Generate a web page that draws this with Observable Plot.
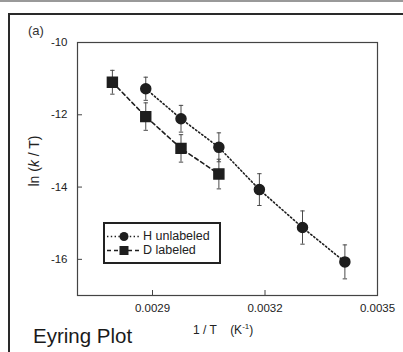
<!DOCTYPE html>
<html>
<head>
<meta charset="utf-8">
<script src="https://cdn.jsdelivr.net/npm/d3@7"></script>
<script src="https://cdn.jsdelivr.net/npm/@observablehq/plot@0.6"></script>
<style>
  html, body { margin: 0; padding: 0; background: #fff; }
  #wrap { position: relative; width: 403px; height: 352px; overflow: hidden; font-family: "Liberation Sans", Arial, sans-serif; color: #222; }
  #wrap svg.plot { position: absolute; left: 0; top: 0; }
  .t { position: absolute; line-height: 1; white-space: nowrap; }
  #topstrip { position: absolute; left: 0; top: 0; width: 403px; height: 2px; background: #999; }
  #outer { position: absolute; left: 8px; top: 13px; width: 400px; height: 400px; border-left: 2px solid #2a2a2a; border-top: 2px solid #2a2a2a; box-sizing: border-box; }
  #legend { position: absolute; left: 103px; top: 222px; width: 118px; height: 42px; border: 2px solid #222; box-sizing: border-box; background: #fff; }
  #legend .row { position: absolute; left: 0; height: 13px; }
  #legend .row svg { position: absolute; left: 0; top: 0; }
  #legend .row span { position: absolute; left: 38px; top: 0px; font-size: 12.5px; line-height: 1; white-space: nowrap; }
</style>
</head>
<body>
<div id="wrap">
  <div id="topstrip"></div>
  <div id="outer"></div>
</div>
<script>
// ---- data ----
const hX   = [0.002882, 0.002976, 0.003077, 0.003185, 0.003300, 0.003413];
const hY   = [-11.28, -12.11, -12.90, -14.07, -15.12, -16.07];
const hErr = [0.32, 0.37, 0.40, 0.44, 0.46, 0.47];

const dX   = [0.002793, 0.002882, 0.002976, 0.003077];
const dY   = [-11.10, -12.05, -12.93, -13.64];
const dErr = [0.33, 0.38, 0.38, 0.41];

const xTicks = [0.0029, 0.0032, 0.0035];
const yTicks = [-10, -12, -14, -16];

const seriesNames = ["H unlabeled", "D labeled"];

// ---- build tables ----
const H = hX.map((x, i) => ({x, y: hY[i], e: hErr[i]}));
const D = dX.map((x, i) => ({x, y: dY[i], e: dErr[i]}));

const cap = { draw(ctx, size) { const w = Math.sqrt(size / Math.PI); ctx.moveTo(-w, 0); ctx.lineTo(w, 0); } };
const ink = "#1e1e1e";
const barInk = "#4a4a4a";

function errMarks(data) {
  return [
    Plot.ruleX(data, {x: "x", y1: d => d.y - d.e, y2: d => d.y + d.e, stroke: barInk, strokeWidth: 1}),
    Plot.dot(data, {x: "x", y: d => d.y + d.e, symbol: cap, r: 2.2, stroke: barInk, fill: "none", strokeWidth: 1}),
    Plot.dot(data, {x: "x", y: d => d.y - d.e, symbol: cap, r: 2.2, stroke: barInk, fill: "none", strokeWidth: 1})
  ];
}

const chart = Plot.plot({
  width: 403, height: 352,
  marginLeft: 77, marginRight: 26, marginTop: 42, marginBottom: 57,
  style: {fontFamily: "'Liberation Sans', Arial, sans-serif", fontSize: "11.5px", color: "#222", background: "transparent"},
  x: {domain: [0.0027, 0.0035]},
  y: {domain: [-17, -10]},
  marks: [
    Plot.frame({stroke: "#444", strokeWidth: 1.2}),
    Plot.axisX({ticks: xTicks, tickSize: 0, tickPadding: 8, tickFormat: d => d.toFixed(4), label: null}),
    Plot.tickX(xTicks, {x: d => d, insetTop: 248, stroke: "#444"}),
    Plot.axisY({ticks: yTicks, tickSize: 0, tickPadding: 10, tickFormat: d => String(d), label: null}),
    Plot.tickY(yTicks, {y: d => d, insetRight: 295, stroke: "#444"}),
    Plot.line(H, {x: "x", y: "y", stroke: ink, strokeWidth: 1.6, strokeDasharray: "1.4,2.4"}),
    Plot.line(D, {x: "x", y: "y", stroke: ink, strokeWidth: 1.6, strokeDasharray: "4,3"}),
    ...errMarks(H),
    ...errMarks(D),
    Plot.dot(H, {x: "x", y: "y", r: 5, fill: ink, stroke: ink, symbol: "circle"}),
    Plot.dot(D, {x: "x", y: "y", r: 5.6, fill: ink, stroke: ink, symbol: "square"})
  ]
});
chart.classList.add("plot");
const wrap = document.getElementById("wrap");
wrap.appendChild(chart);

function addText(html, left, top, size, extra) {
  const el = document.createElement("div");
  el.className = "t";
  el.innerHTML = html;
  el.style.left = left + "px";
  el.style.top = top + "px";
  el.style.fontSize = size + "px";
  if (extra) Object.assign(el.style, extra);
  wrap.appendChild(el);
  return el;
}

addText("(a)", 28, 24, 13, {color: "#333"});
addText("Eyring Plot", 33, 325.5, 20.5, {color: "#1a1a1a"});
addText("1 / T&nbsp;&nbsp;&nbsp;&nbsp;(K<sup style=\"font-size:8px;vertical-align:5px\">-1</sup>)", 193, 323, 12);
const yl = addText("ln (<i>k</i> / T)", 0, 0, 14);
yl.style.left = "34px"; yl.style.top = "161px";
yl.style.transform = "translate(-50%, -50%) rotate(-90deg)";

// legend
const lg = document.createElement("div");
lg.id = "legend";
const rows = [
  {name: seriesNames[0], dash: "1.4,2.4", sym: "circle"},
  {name: seriesNames[1], dash: "4,3", sym: "square"}
];
rows.forEach((r, i) => {
  const row = document.createElement("div");
  row.className = "row";
  row.style.top = (5.5 + i * 14) + "px";
  row.style.width = "114px";
  const ns = "http://www.w3.org/2000/svg";
  const s = document.createElementNS(ns, "svg");
  s.setAttribute("width", "38"); s.setAttribute("height", "13");
  const ln = document.createElementNS(ns, "line");
  ln.setAttribute("x1", "2"); ln.setAttribute("x2", "36"); ln.setAttribute("y1", "6.5"); ln.setAttribute("y2", "6.5");
  ln.setAttribute("stroke", ink); ln.setAttribute("stroke-width", "1.4"); ln.setAttribute("stroke-dasharray", r.dash);
  s.appendChild(ln);
  let m;
  if (r.sym === "circle") {
    m = document.createElementNS(ns, "circle");
    m.setAttribute("cx", "19"); m.setAttribute("cy", "6.5"); m.setAttribute("r", "4.5");
  } else {
    m = document.createElementNS(ns, "rect");
    m.setAttribute("x", "14.5"); m.setAttribute("y", "2"); m.setAttribute("width", "9"); m.setAttribute("height", "9");
  }
  m.setAttribute("fill", ink);
  s.appendChild(m);
  row.appendChild(s);
  const sp = document.createElement("span");
  sp.textContent = r.name;
  row.appendChild(sp);
  lg.appendChild(row);
});
wrap.appendChild(lg);
</script>
</body>
</html>
